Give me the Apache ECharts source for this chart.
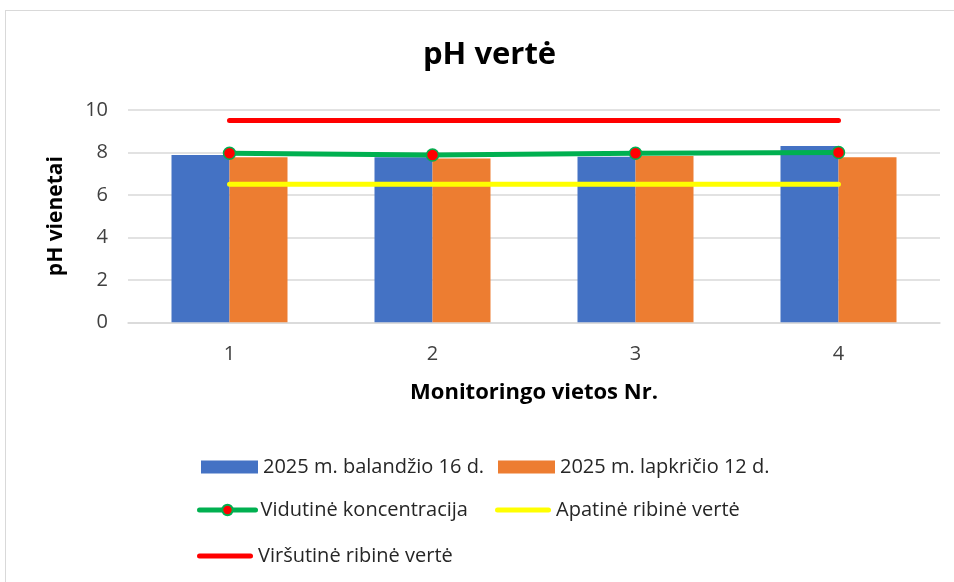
<!DOCTYPE html>
<html><head><meta charset="utf-8">
<script src="https://cdn.jsdelivr.net/npm/echarts@6/dist/echarts.min.js"></script>
<style>
html,body{margin:0;padding:0;background:#fff;}
#frame{position:absolute;left:5px;top:10px;width:960px;height:580px;border:1.5px solid #d9d9d9;box-sizing:border-box;}
#chart{position:absolute;left:0;top:0;width:954px;height:582px;}
</style></head>
<body>
<div id="frame"></div>
<div id="chart"></div>
<script>
const categories = ['1', '2', '3', '4'];
const april = [7.88, 7.77, 7.8, 8.3];
const november = [7.77, 7.72, 7.83, 7.77];
const average = [7.96, 7.88, 7.96, 8.0];
const lowerLimit = [6.5, 6.5, 6.5, 6.5];
const upperLimit = [9.5, 9.5, 9.5, 9.5];
const yTicks = { min: 0, max: 10, interval: 2 };
const names = ['2025 m. balandžio 16 d.', '2025 m. lapkričio 12 d.', 'Vidutinė koncentracija', 'Apatinė ribinė vertė', 'Viršutinė ribinė vertė'];

const FONT = 'Open Sans';
const chart = echarts.init(document.getElementById('chart'));
const legendText = { fontFamily: FONT, fontSize: 20, color: '#262626' };
const lineIcon = 'path://M2.5,0 L53.5,0 A2.5,2.5 0 0 1 53.5,5 L2.5,5 A2.5,2.5 0 0 1 2.5,0 Z';
function leg(left, top, name, extra) {
  return Object.assign({ left: left, top: top, padding: 0, itemWidth: 57, itemHeight: 13, textStyle: legendText, data: [name] }, extra || {});
}
chart.setOption({
  animation: false,
  title: { text: 'pH vertė', left: 418, top: 35, textStyle: { fontFamily: FONT, fontSize: 31, fontWeight: 'bold', color: '#000' } },
  grid: { left: 128, right: 14, top: 110, height: 212.3 },
  legend: [
    leg(201, 457, { name: names[0], icon: 'rect' }),
    leg(498, 457, { name: names[1], icon: 'rect' }),
    leg(197, 500, { name: names[2] }, { itemWidth: 56, lineStyle: { width: 5, cap: 'round' } }),
    leg(495, 500, { name: names[3], icon: lineIcon }, { itemWidth: 56, itemHeight: 5 }),
    leg(197, 546, { name: names[4], icon: lineIcon }, { itemWidth: 56, itemHeight: 5 })
  ],
  xAxis: {
    type: 'category', data: categories,
    name: 'Monitoringo vietos Nr.', nameLocation: 'middle', nameGap: 59,
    nameTextStyle: { fontFamily: FONT, fontSize: 22, fontWeight: 'bold', color: '#000' },
    axisLine: { lineStyle: { color: '#d9d9d9', width: 1.5 } },
    axisTick: { show: false },
    axisLabel: { fontFamily: FONT, fontSize: 20, color: '#404040', margin: 22 }
  },
  yAxis: {
    type: 'value', min: yTicks.min, max: yTicks.max, interval: yTicks.interval,
    name: 'pH vienetai', nameLocation: 'middle', nameGap: 61,
    nameTextStyle: { fontFamily: FONT, fontSize: 21, fontWeight: 'bold', color: '#000' },
    axisLabel: { fontFamily: FONT, fontSize: 20, color: '#404040', margin: 20 },
    splitLine: { lineStyle: { color: '#d9d9d9', width: 1.5 } }
  },
  series: [
    { name: names[0], type: 'bar', data: april, barWidth: 58, barGap: '0%', itemStyle: { color: '#4472C4' } },
    { name: names[1], type: 'bar', data: november, barWidth: 58, barGap: '0%', itemStyle: { color: '#ED7D31' } },
    { name: names[3], type: 'line', data: lowerLimit, symbol: 'none', lineStyle: { color: '#FFFF00', width: 5, cap: 'round' }, itemStyle: { color: '#FFFF00' } },
    { name: names[4], type: 'line', data: upperLimit, symbol: 'none', lineStyle: { color: '#FF0000', width: 5, cap: 'round' }, itemStyle: { color: '#FF0000' } },
    { name: names[2], type: 'line', data: average, symbol: 'circle', symbolSize: 12, lineStyle: { color: '#00B050', width: 5, cap: 'round' }, itemStyle: { color: '#FF0000', borderColor: '#00B050', borderWidth: 1.5 } }
  ]
});
</script>
</body></html>
